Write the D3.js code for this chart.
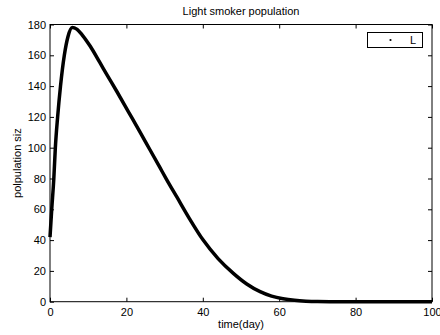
<!DOCTYPE html>
<html><head><meta charset="utf-8">
<script src="https://cdn.jsdelivr.net/npm/d3@7"></script>
<style>body{margin:0;background:#fff}svg{display:block}text{font-family:"Liberation Sans",Arial,sans-serif}</style>
</head><body><svg id="c" width="440" height="335"></svg>
<script>
const title = "Light smoker population";
const xLabel = "time(day)";
const yLabel = "polpulation siz";
const legendLabel = "L";
const xTicks = [0,20,40,60,80,100];
const yTicks = [0,20,40,60,80,100,120,140,160,180];
const timeDays = [0,0.45,1.0,1.4,2.0,2.75,3.75,4.7,5.8,7,8.5,10.5,13,15,17.5,20.5,23.5,26.2,28.8,30.5,33.2,36.5,40.1,44,48,51.5,55,58,61,64,67,70,75,80,90,100];
const lightSmokers = [42,60,80,100,120,140,160,172,178,177,173,166,155.5,147,136.5,123.5,110.5,98.5,87,79.5,68,54,40,28,18.4,11.5,6.5,3.6,1.9,0.9,0.35,0.1,0,0,0,0];

const svg = d3.select("#c");
const L = 50, R = 432, T = 24.5, B = 301.7;
const x = d3.scaleLinear().domain([0,100]).range([L,R]);
const y = d3.scaleLinear().domain([0,180]).range([B,T]);

svg.append("rect").attr("x",L).attr("y",T).attr("width",R-L).attr("height",B-T)
  .attr("fill","none").attr("stroke","#000").attr("stroke-width",1);

const tk = 4;
const fs = "11px";
const gx = svg.append("g").attr("transform",`translate(0,${B})`)
  .call(d3.axisBottom(x).tickValues(xTicks).tickSize(-tk).tickPadding(7).tickFormat(d3.format("d")));
const gxT = svg.append("g").attr("transform",`translate(0,${T})`)
  .call(d3.axisTop(x).tickValues(xTicks).tickSize(-tk).tickFormat(""));
const gy = svg.append("g").attr("transform",`translate(${L},0)`)
  .call(d3.axisLeft(y).tickValues(yTicks).tickSize(-tk).tickPadding(4).tickFormat(d3.format("d")));
const gyR = svg.append("g").attr("transform",`translate(${R},0)`)
  .call(d3.axisRight(y).tickValues(yTicks).tickSize(-tk).tickFormat(""));
[gx,gxT,gy,gyR].forEach(g=>{
  g.select(".domain").remove();
  g.selectAll("line").attr("stroke","#000");
  g.selectAll("text").attr("fill","#000").style("font-size",fs).style("font-family","'Liberation Sans',Arial,sans-serif");
});

const line = d3.line().x((d,i)=>x(timeDays[i])).y(d=>y(d)).curve(d3.curveMonotoneX);
svg.append("path").datum(lightSmokers).attr("d",line)
  .attr("fill","none").attr("stroke","#000").attr("stroke-width",3.5).attr("stroke-linejoin","round");

svg.append("text").attr("x",(L+R)/2).attr("y",15).attr("text-anchor","middle")
  .style("font-size",fs).text(title);
svg.append("text").attr("x",(L+R)/2).attr("y",328).attr("text-anchor","middle")
  .style("font-size",fs).text(xLabel);
svg.append("text").attr("transform",`translate(21,${(T+B)/2}) rotate(-90)`).attr("text-anchor","middle")
  .style("font-size",fs).text(yLabel);

const lg = svg.append("g");
lg.append("rect").attr("x",367.5).attr("y",32.5).attr("width",55).attr("height",15)
  .attr("fill","#fff").attr("stroke","#000").attr("stroke-width",1);
lg.append("circle").attr("cx",390.5).attr("cy",40).attr("r",1.1).attr("fill","#000");
lg.append("text").attr("x",413).attr("y",44).attr("text-anchor","middle").style("font-size",fs).text(legendLabel);
</script></body></html>
